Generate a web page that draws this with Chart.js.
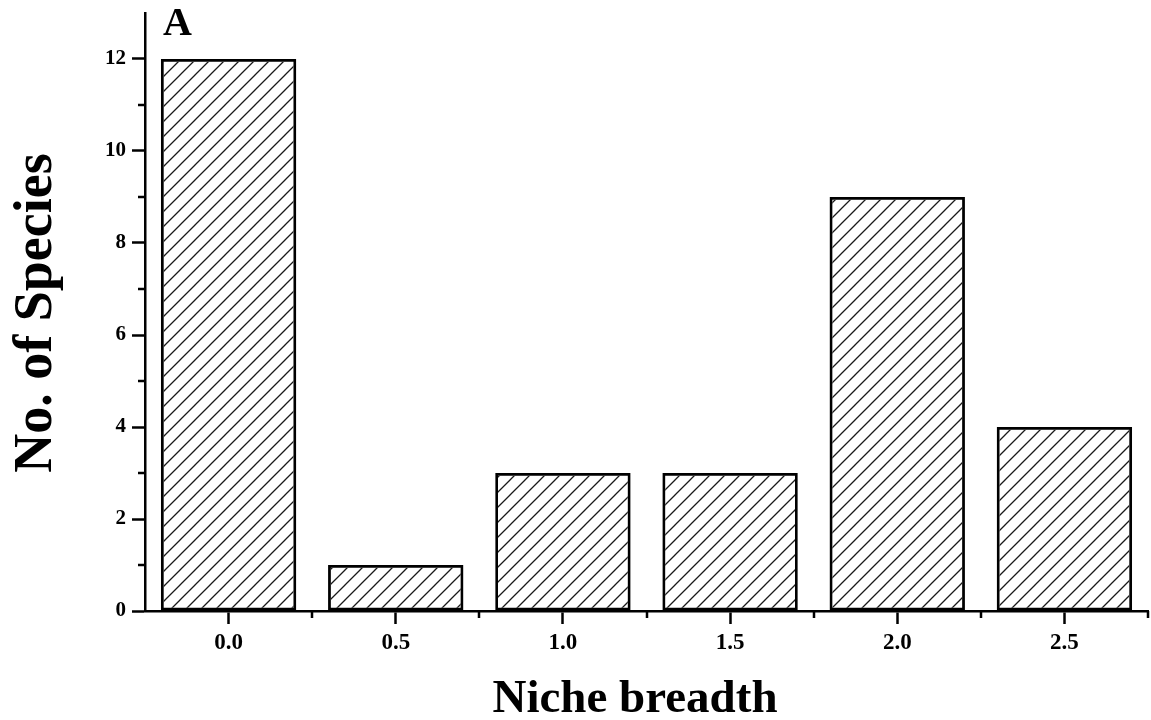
<!DOCTYPE html>
<html>
<head>
<meta charset="utf-8">
<script src="https://cdn.jsdelivr.net/npm/chart.js@4"></script>
<style>
  html, body { margin: 0; padding: 0; background: #fff; }
</style>
</head>
<body>
<canvas id="nicheChart" width="1151" height="720"></canvas>
<script>
// values
const nicheBreadth = [0.0, 0.5, 1.0, 1.5, 2.0, 2.5];
const speciesCount = [12, 1, 3, 3, 9, 4];
const xTickValues = [0.0, 0.5, 1.0, 1.5, 2.0, 2.5];
const xMinorTicks = [0.25, 0.75, 1.25, 1.75, 2.25, 2.75];
const yTickValues = [0, 2, 4, 6, 8, 10, 12];
const yMinorTicks = [1, 3, 5, 7, 9, 11];
const panelLabel = "A";
const xTitle = "Niche breadth";
const yTitle = "No. of Species";

const serif = "'Liberation Serif', 'Times New Roman', serif";

// diagonal hatching for the bars
function makeHatch() {
    const size = 15;
    const c = document.createElement("canvas");
    c.width = size;
    c.height = size;
    const g = c.getContext("2d");
    g.strokeStyle = "#1a1a1a";
    g.lineWidth = 1.3;
    g.beginPath();
    g.moveTo(0, size); g.lineTo(size, 0);
    g.moveTo(-2, 2); g.lineTo(2, -2);
    g.moveTo(size - 2, size + 2); g.lineTo(size + 2, size - 2);
    g.stroke();
    return g.createPattern(c, "repeat");
}

// minor ticks, axis titles, panel letter
const decorPlugin = {
    id: "decor",
    afterDraw(chart) {
        const ctx = chart.ctx;
        const xs = chart.scales.x;
        const ys = chart.scales.y;
        ctx.save();
        ctx.strokeStyle = "#000";
        ctx.lineWidth = 2.5;
        ctx.beginPath();
        xMinorTicks.forEach(v => {
            const px = Math.round(xs.getPixelForValue(v));
            ctx.moveTo(px, xs.top);
            ctx.lineTo(px, xs.top + 7);
        });
        yMinorTicks.forEach(v => {
            const py = Math.round(ys.getPixelForValue(v));
            ctx.moveTo(ys.right, py);
            ctx.lineTo(ys.right - 7, py);
        });
        ctx.stroke();

        ctx.fillStyle = "#000";
        ctx.textBaseline = "alphabetic";

        ctx.font = "bold 40px " + serif;
        ctx.textAlign = "left";
        ctx.fillText(panelLabel, 163, 35);

        ctx.font = "bold 47px " + serif;
        ctx.textAlign = "center";
        ctx.fillText(xTitle, 635, 712);

        ctx.translate(51, 313);
        ctx.rotate(-Math.PI / 2);
        ctx.font = "bold 54px " + serif;
        ctx.fillText(yTitle, 0, 0);
        ctx.restore();
    }
};

const ctx = document.getElementById("nicheChart").getContext("2d");
const points = nicheBreadth.map((x, i) => ({ x: x, y: speciesCount[i] }));

new Chart(ctx, {
    type: "bar",
    data: {
        datasets: [{
            data: points,
            backgroundColor: makeHatch(),
            borderColor: "#000",
            borderWidth: 2.8,
            borderSkipped: false,
            categoryPercentage: 0.81,
            barPercentage: 1.0
        }]
    },
    options: {
        responsive: false,
        animation: false,
        layout: { padding: { top: 13, right: 3, left: 0, bottom: 0 } },
        plugins: {
            legend: { display: false },
            tooltip: { enabled: false }
        },
        scales: {
            x: {
                type: "linear",
                min: -0.25,
                max: 2.75,
                offset: false,
                afterBuildTicks: s => { s.ticks = xTickValues.map(v => ({ value: v })); },
                afterFit: s => {
                    s.height = 109;
                    s.paddingLeft = 0;
                    s.paddingRight = 0;
                },
                border: { color: "#000", width: 2.5 },
                grid: {
                    offset: false,
                    drawOnChartArea: false,
                    drawTicks: true,
                    tickLength: 13,
                    tickWidth: 2.5,
                    tickColor: "#000"
                },
                ticks: {
                    color: "#000",
                    padding: 5,
                    font: { family: serif, size: 23, weight: "bold" },
                    callback: v => Number(v).toFixed(1)
                }
            },
            y: {
                min: 0,
                max: 13,
                afterBuildTicks: s => { s.ticks = yTickValues.map(v => ({ value: v })); },
                afterFit: s => {
                    s.width = 145;
                    s.paddingTop = 0;
                    s.paddingBottom = 0;
                },
                border: { color: "#000", width: 2.5 },
                grid: {
                    offset: false,
                    drawOnChartArea: false,
                    drawTicks: true,
                    tickLength: 13,
                    tickWidth: 2.5,
                    tickColor: "#000"
                },
                ticks: {
                    color: "#000",
                    padding: 6,
                    font: { family: serif, size: 21, weight: "bold" },
                    callback: v => String(v)
                }
            }
        }
    },
    plugins: [decorPlugin]
});
</script>
</body>
</html>
